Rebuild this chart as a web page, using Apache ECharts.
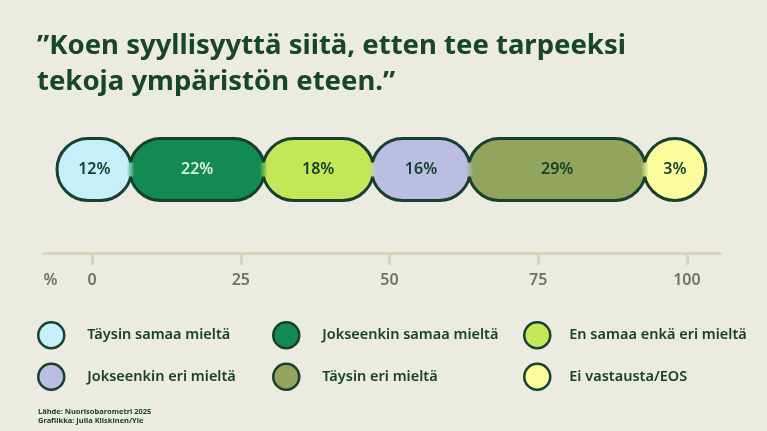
<!DOCTYPE html>
<html lang="fi">
<head>
    <meta charset="UTF-8">
    <title>Koen syyllisyyttä</title>
    <script src="https://cdn.jsdelivr.net/npm/echarts@6/dist/echarts.min.js"></script>
    <style>
        *{
            margin: 0;
            padding: 0;
        }
        html, body{
            width: 100%;
            height: 100%;
            overflow: hidden;
            background: #ecebe2;
        }
        .container{
            width: 767px;
            height: 431px;
        }
    </style>
</head>
<body>
<div class="container"></div>
<script>
    // data
    const categories = ['Täysin samaa mieltä', 'Jokseenkin samaa mieltä', 'En samaa enkä eri mieltä',
        'Jokseenkin eri mieltä', 'Täysin eri mieltä', 'Ei vastausta/EOS'];
    const values = [12, 22, 18, 16, 29, 3];
    const tickValues = [0, 25, 50, 75, 100];

    const colors = ['#c6effb', '#138a52', '#c4e757', '#bcbde3', '#93a55c', '#fbfd9c'];
    const labelColors = ['#17402f', '#d9f0dc', '#17402f', '#17402f', '#17402f', '#17402f'];
    const ink = '#17402f';
    const font = '"Noto Sans", sans-serif';

    let container = document.querySelector('.container');
    let mycharts = echarts.init(container);

    // cumulative start/end of each segment
    let starts = [];
    let acc = 0;
    values.forEach(v => { starts.push(acc); acc += v; });

    function renderPill(params, api) {
        let s = api.coord([api.value(0), 0]);
        let e = api.coord([api.value(1), 0]);
        let h = api.size([0, 1])[1] - 3;
        let i = params.seriesIndex;
        let w = Math.max(e[0] - s[0] + 2, h);
        let x = s[0] - 1;
        return {
            type: 'group',
            children: [{
                type: 'rect',
                shape: {x: x, y: s[1] - h / 2, width: w, height: h, r: h / 2},
                style: {fill: colors[i], stroke: ink, lineWidth: 3}
            }, {
                type: 'text',
                x: x + w / 2,
                y: s[1],
                style: {
                    text: api.value(2) + '%',
                    fill: labelColors[i],
                    font: '600 16px ' + font,
                    align: 'center',
                    verticalAlign: 'middle'
                }
            }]
        };
    }

    // joints between neighbouring pills
    function renderJoint(params, api) {
        let p = api.coord([api.value(0), 0]);
        let a = api.value(1), b = api.value(2);
        return {
            type: 'rect',
            shape: {x: p[0] - 4, y: p[1] - 7, width: 8, height: 14},
            style: {
                fill: new echarts.graphic.LinearGradient(0, 0, 1, 0, [
                    {offset: 0, color: colors[a]},
                    {offset: 1, color: colors[b]}
                ])
            }
        };
    }

    let series = categories.map((name, i) => ({
        name: name,
        type: 'custom',
        xAxisIndex: 0,
        yAxisIndex: 0,
        z: 2,
        itemStyle: {color: colors[i]},
        encode: {x: [0, 1], y: 3},
        data: [[starts[i], starts[i] + values[i], values[i], 0]],
        renderItem: renderPill
    }));

    series.push({
        name: 'joints',
        type: 'custom',
        xAxisIndex: 0,
        yAxisIndex: 0,
        z: 3,
        silent: true,
        encode: {x: 0, y: 3},
        data: values.slice(1).map((v, i) => [starts[i + 1], i, i + 1, 0]),
        renderItem: renderJoint
    });

    let legendBase = {
        orient: 'vertical',
        top: 316,
        itemWidth: 26,
        itemHeight: 26,
        itemGap: 13,
        icon: 'circle',
        itemStyle: {borderColor: ink, borderWidth: 2.5},
        textStyle: {
            color: ink,
            fontFamily: font,
            fontWeight: 600,
            fontSize: 14.5,
            padding: [0, 0, 0, 18]
        },
        selectedMode: false
    };

    let options = {
        backgroundColor: '#ecebe2',
        animation: false,
        title: [{
            text: '”Koen syyllisyyttä siitä, etten tee tarpeeksi\ntekoja ympäristön eteen.”',
            left: 32,
            top: 23,
            textStyle: {
                color: '#18452f',
                fontFamily: font,
                fontWeight: 'bold',
                fontSize: 27.5,
                lineHeight: 36
            }
        }, {
            text: 'Lähde: Nuorisobarometri 2025\nGrafiikka: Julia Kiiskinen/Yle',
            left: 33,
            top: 402,
            textStyle: {
                color: ink,
                fontFamily: font,
                fontWeight: 'bold',
                fontSize: 7.5,
                lineHeight: 9.5
            }
        }],
        grid: [
            {left: 58, width: 605, top: 137, height: 65},
            {left: 44, right: 47, top: 200, height: 53}
        ],
        xAxis: [{
            gridIndex: 0,
            type: 'value',
            min: 0,
            max: 100,
            show: false
        }, {
            gridIndex: 1,
            type: 'value',
            min: -8.08,
            max: 105.56,
            axisLine: {show: true, lineStyle: {color: '#d6d5c2', width: 3}},
            axisTick: {
                show: true,
                length: 12,
                lineStyle: {color: '#d6d5c2', width: 3},
                customValues: tickValues
            },
            axisLabel: {
                customValues: [-7].concat(tickValues),
                formatter: v => v < 0 ? '%' : String(v),
                margin: 19,
                color: '#727264',
                fontFamily: font,
                fontWeight: 600,
                fontSize: 16
            },
            splitLine: {show: false}
        }],
        yAxis: [{
            gridIndex: 0,
            type: 'category',
            data: ['kysymys'],
            show: false
        }, {
            gridIndex: 1,
            type: 'value',
            show: false
        }],
        legend: [
            Object.assign({}, legendBase, {left: 32, data: [categories[0], categories[3]]}),
            Object.assign({}, legendBase, {left: 267, data: [categories[1], categories[4]]}),
            Object.assign({}, legendBase, {left: 518, textStyle: Object.assign({}, legendBase.textStyle, {padding: [0, 0, 0, 14]}),
                data: [categories[2], categories[5]]})
        ],
        series
    };

    mycharts.setOption(options);
</script>
</body>
</html>
